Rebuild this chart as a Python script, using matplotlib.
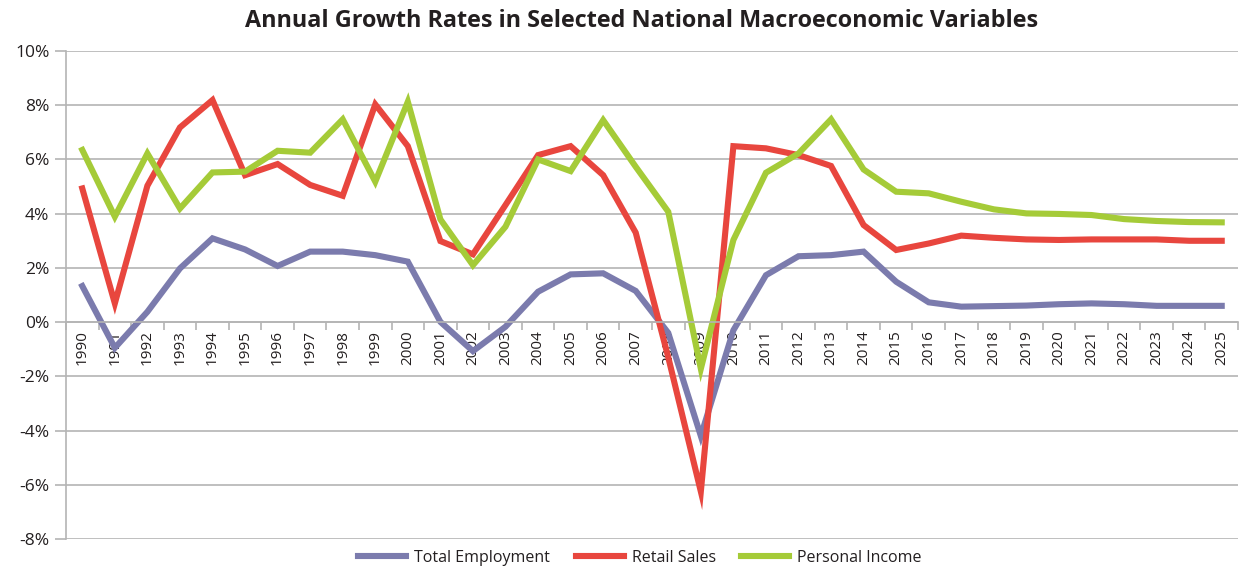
import matplotlib.pyplot as plt
import numpy as np
from matplotlib.ticker import FuncFormatter, MultipleLocator

years = list(range(1990, 2026))

total_employment = [1.33, -0.95, 0.38, 1.98, 3.09, 2.68, 2.07, 2.6, 2.6, 2.47,
                    2.23, 0.01, -1.07, -0.17, 1.12, 1.76, 1.8, 1.15, -0.4, -4.2,
                    -0.3, 1.73, 2.43, 2.47, 2.6, 1.49, 0.73, 0.57, 0.59, 0.61,
                    0.66, 0.69, 0.66, 0.6, 0.6, 0.6]

retail_sales = [4.93, 0.69, 5.03, 7.18, 8.19, 5.42, 5.83, 5.06, 4.66, 8.03,
                6.49, 2.99, 2.5, 4.32, 6.16, 6.49, 5.42, 3.3, -1.3, -6.25,
                6.49, 6.41, 6.16, 5.76, 3.58, 2.66, 2.9, 3.19, 3.11, 3.05,
                3.03, 3.05, 3.05, 3.05, 3.0, 3.0]

personal_income = [6.35, 3.89, 6.22, 4.19, 5.52, 5.55, 6.32, 6.25, 7.48, 5.18,
                   8.13, 3.79, 2.1, 3.52, 6.0, 5.57, 7.45, 5.73, 4.07, -1.72,
                   3.03, 5.51, 6.22, 7.48, 5.63, 4.81, 4.75, 4.44, 4.16, 4.01,
                   3.99, 3.95, 3.8, 3.73, 3.69, 3.68]

series_names = ["Total Employment", "Retail Sales", "Personal Income"]
colors = ["#7b7bad", "#e8463e", "#a5cb38"]

plt.rcParams['font.family'] = ['Open Sans', 'DejaVu Sans']

fig = plt.figure(figsize=(12.39, 5.69), dpi=100)
ax = fig.add_axes([66 / 1239, 30 / 569, (1238 - 66) / 1239, (539 - 51) / 569])

x = np.arange(len(years))
for vals, name, c in zip([total_employment, retail_sales, personal_income], series_names, colors):
    ax.plot(x, vals, color=c, linewidth=4.4, label=name, solid_joinstyle='miter')

ax.set_xlim(-0.5, len(years) - 0.5)
ax.set_ylim(-8, 10)
ax.yaxis.set_major_locator(MultipleLocator(2))
ax.yaxis.set_major_formatter(FuncFormatter(lambda v, p: f"{v:.0f}%"))
ax.grid(axis='y', color='#b4b4b4', linewidth=1.2)
ax.set_axisbelow(True)

for s in ['top', 'right']:
    ax.spines[s].set_visible(False)
ax.spines['left'].set_color('#b4b4b4')
ax.spines['left'].set_linewidth(1.2)
ax.spines['bottom'].set_position(('data', 0))
ax.spines['bottom'].set_color('#b4b4b4')
ax.spines['bottom'].set_linewidth(1.2)

ax.set_xticks(x)
ax.set_xticklabels([str(y) for y in years], rotation=90, fontsize=11, color='#231f20')
ax.set_xticks(np.arange(len(years) + 1) - 0.5, minor=True)
ax.tick_params(axis='x', which='major', length=0, pad=6)
ax.tick_params(axis='x', which='minor', length=6, color='#b4b4b4', width=1.2)
ax.tick_params(axis='y', length=8, color='#b4b4b4', width=1.2, labelsize=12.5,
               labelcolor='#231f20', pad=4)

fig.suptitle("Annual Growth Rates in Selected National Macroeconomic Variables",
             x=642 / 1239, y=1 - 21 / 569, fontsize=16.8, fontweight='bold',
             color='#231f20', va='center')

fig.legend(loc='center', bbox_to_anchor=(640 / 1239, 1 - 558 / 569), ncol=3,
           frameon=False, fontsize=11.5, handlelength=3.0, columnspacing=1.6,
           handletextpad=0.5)
for txt in fig.legends[0].get_texts():
    txt.set_color('#231f20')

fig.savefig("out.png", dpi=100)
